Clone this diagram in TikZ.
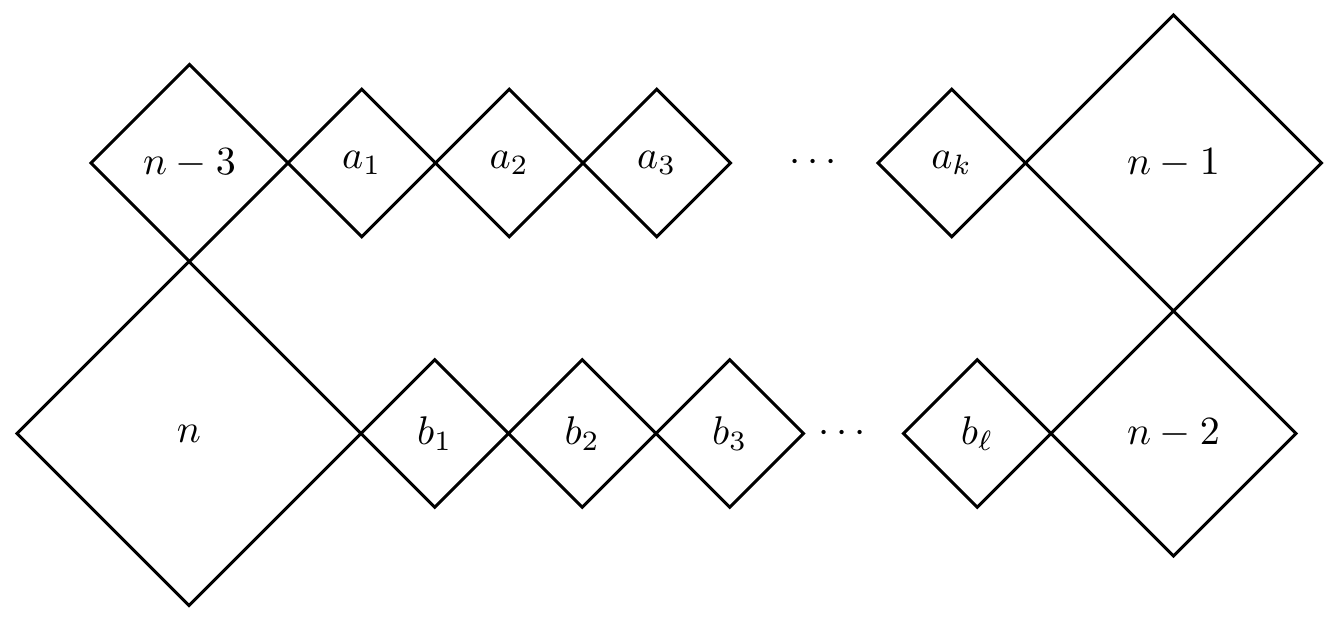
\documentclass[tikz,border=0pt]{standalone}
\usetikzlibrary{shapes.geometric}
\begin{document}
\begin{tikzpicture}[x=0.25pt,y=-0.25pt,
  dia/.style={diamond,draw,line width=0.75pt,inner sep=0pt,outer sep=0pt,aspect=1,minimum width=#1,minimum height=#1},
  dia/.default=36.875pt,
  dotsnode/.style={inner sep=0pt}]
\useasboundingbox (0,0) rectangle (1337,621);
% top row
\node[dia=49.25pt] (n3) at (189.5,163) {$n-3$};
\node[dia] (a1) at (361.75,163) {$a_1$};
\node[dia] (a2) at (509.25,163) {$a_2$};
\node[dia] (a3) at (656.75,163) {$a_3$};
\node[dotsnode] (tdots) at (813,163) {$\cdots$};
\node[dia] (ak) at (951.75,163) {$a_k$};
\node[dia=74pt] (n1) at (1173.5,163) {$n-1$};
% bottom row
\node[dia=86pt] (n) at (189,433.5) {$n$};
\node[dia] (b1) at (434.75,433.5) {$b_1$};
\node[dia] (b2) at (582.25,433.5) {$b_2$};
\node[dia] (b3) at (729.75,433.5) {$b_3$};
\node[dotsnode] (bdots) at (842,433.5) {$\cdots$};
\node[dia] (bl) at (977.25,433.5) {$b_\ell$};
\node[dia=61.25pt] (n2) at (1173.5,433.5) {$n-2$};
\end{tikzpicture}
\end{document}
